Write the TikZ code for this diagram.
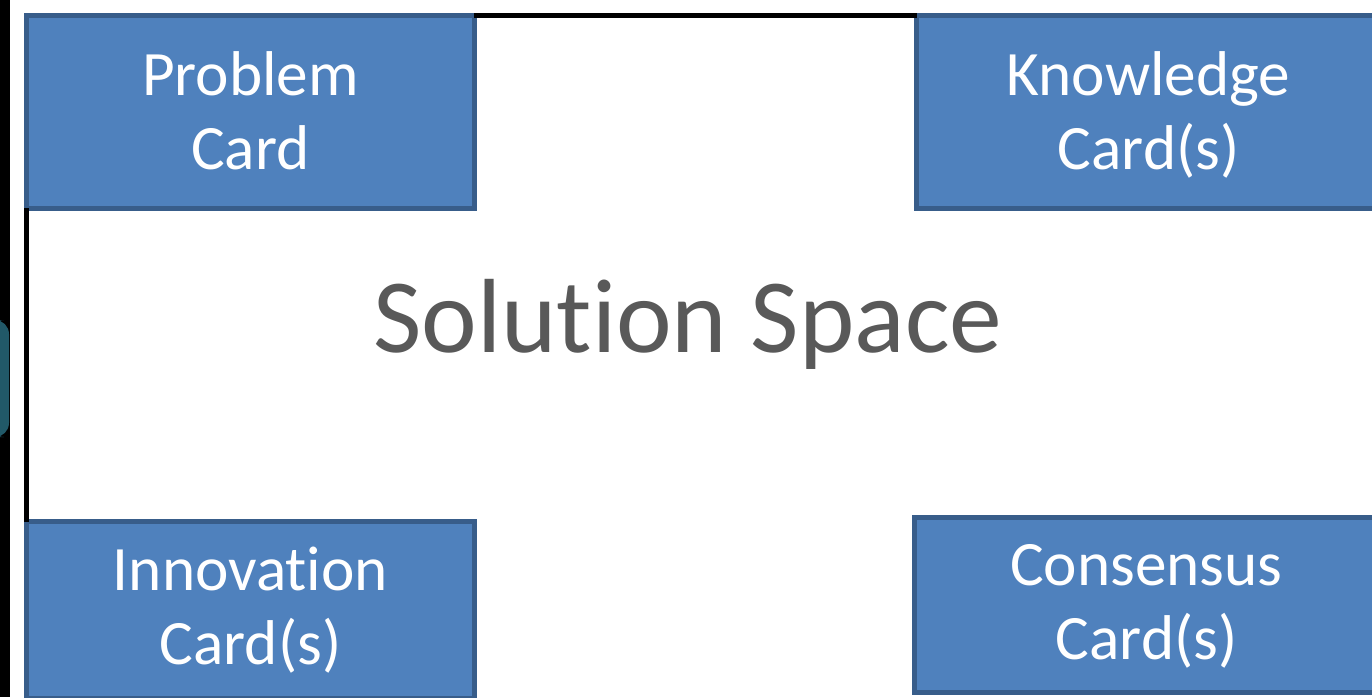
\documentclass[tikz,border=0pt]{standalone}
\usepackage{fontspec}
\setmainfont{Carlito}[Ligatures=NoCommon]
\definecolor{cardfill}{HTML}{4F81BD}
\definecolor{carddraw}{HTML}{385D8A}
\definecolor{spacegray}{HTML}{595959}
\definecolor{tabteal}{HTML}{215968}
% two text lines with fixed top ascent and given bottom depth
\newcommand{\cardlines}[3]{\rule{0pt}{35pt}#2\\#3\rule[-#1]{0pt}{#1}}
\begin{document}
\begin{tikzpicture}[x=0.02cm,y=-0.02cm,
        card/.style={rectangle,fill=cardfill,draw=carddraw,line width=2.8pt,text=white,align=center,inner sep=0pt,outer sep=0pt,
            font=\fontsize{36}{42.5}\selectfont},
        frame/.style={line width=2.5pt,black}]
            \useasboundingbox (0,0) rectangle (1372,697);
            \clip (0,0) rectangle (1372,697);
            \fill[black] (0,0) rectangle (10,697);
            \fill[tabteal,rounded corners=8] (-10,320) rectangle (9,437);
            \node[card,minimum width=8.96cm,minimum height=3.86cm] (prob) at (250.5,112) {\cardlines{11.8pt}{Problem}{Card}};
            \node[card,minimum width=9.28cm,minimum height=3.86cm] (know) at (1148.5,112) {\cardlines{11.8pt}{Knowledge}{Card(s)}};
            \node[card,minimum width=8.96cm,minimum height=3.54cm] (innov) at (250.5,610) {\cardlines{15.2pt}{Innovation}{Card(s)}};
            \node[card,minimum width=9.28cm,minimum height=3.50cm] (cons) at (1146.5,605) {\cardlines{15.2pt}{Consensus}{Card(s)}};
            \draw[frame] (prob.north east) -- (know.north west);
            \draw[frame] (prob.south west) -- (innov.north west);
            \node[text=spacegray,anchor=base,font=\fontsize{60}{72}\selectfont] (space) at (688,352) {Solution Space};
        \end{tikzpicture}
\end{document}
